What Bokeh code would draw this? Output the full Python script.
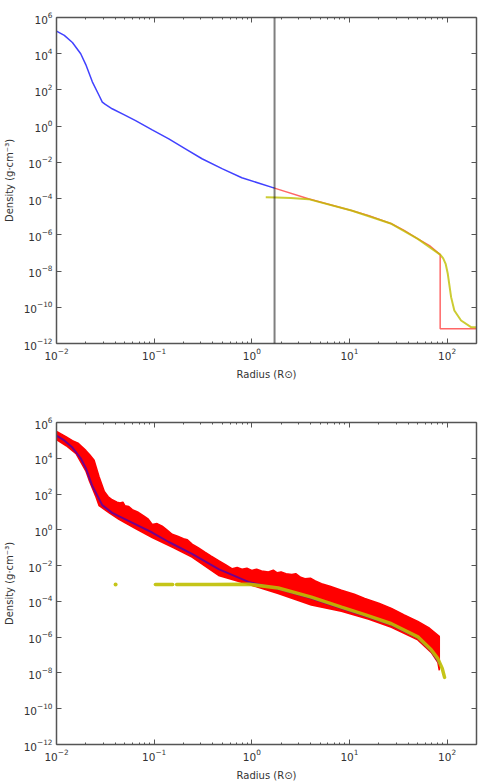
import numpy as np
from bokeh.plotting import figure
from bokeh.layouts import column
from bokeh.models import Range1d, FixedTicker, LogAxis, Span, CustomJSTickFormatter
from bokeh.embed import file_html
from bokeh.resources import INLINE

# ---- profile data (log10 of radius in R_sun, log10 of density in g/cm^3) ----

# analytic inner profile
inner_logr = [-2.0, -1.92, -1.837, -1.752, -1.70, -1.633, -1.56, -1.531, -1.50, -1.43,
              -1.31, -1.19, -1.02, -0.85, -0.68, -0.51, -0.30, -0.102, 0.232]
inner_logrho = [5.25, 5.01, 4.62, 4.00, 3.40, 2.45, 1.65, 1.33, 1.20, 0.96,
                0.64, 0.31, -0.20, -0.70, -1.25, -1.80, -2.36, -2.85, -3.42]

# outer envelope model, truncated at the surface
outer_logr = [0.232, 0.579, 1.02, 1.2, 1.43, 1.56, 1.70, 1.82, 1.929, 1.929, 2.31]
outer_logrho = [-3.42, -4.01, -4.66, -4.95, -5.39, -5.75, -6.22, -6.6, -7.09, -11.19, -11.19]

# relaxed (SPH-averaged) profile
relaxed_logr = [0.143, 0.25, 0.4, 0.58, 1.02, 1.43, 1.70, 1.929, 1.96, 1.985,
                2.007, 2.041, 2.074, 2.143, 2.245, 2.31]
relaxed_logrho = [-3.92, -3.94, -3.97, -4.03, -4.66, -5.39, -6.22, -7.09, -7.3, -7.6,
                  -8.15, -9.44, -10.18, -10.73, -11.1, -11.1]

# core/envelope boundary radius
r_boundary = 1.71

# particle cloud envelope (upper and lower edge)
cloud_upper_logr = [-2.0, -1.95, -1.9, -1.837, -1.78, -1.75, -1.70, -1.66, -1.615, -1.564,
                    -1.51, -1.47, -1.43, -1.38, -1.35, -1.32, -1.3, -1.26, -1.224, -1.17,
                    -1.1, -1.06, -1.02, -0.97, -0.918, -0.87, -0.816, -0.76, -0.7, -0.66,
                    -0.612, -0.55, -0.476, -0.42, -0.34, -0.27, -0.20, -0.15, -0.1, -0.05,
                    0.0, 0.05, 0.1, 0.17, 0.22, 0.26, 0.30, 0.35, 0.41, 0.45, 0.5, 0.544,
                    0.6, 0.65, 0.714, 0.8, 0.918, 1.05, 1.156, 1.3, 1.43, 1.56, 1.70, 1.82, 1.92]
cloud_upper_logrho = [5.50, 5.35, 5.2, 4.99, 4.85, 4.7, 4.44, 4.2, 3.89, 2.97,
                      2.14, 1.85, 1.68, 1.55, 1.5, 1.55, 1.35, 1.3, 1.13, 1.0,
                      0.75, 0.6, 0.30, 0.35, 0.21, 0.0, -0.25, -0.35, -0.5, -0.55,
                      -0.80, -1.0, -1.26, -1.45, -1.72, -1.95, -2.18, -2.1, -2.2, -2.15,
                      -2.27, -2.2, -2.3, -2.36, -2.25, -2.4, -2.35, -2.45, -2.50, -2.45, -2.65, -2.73,
                      -2.7, -2.85, -3.01, -3.15, -3.38, -3.6, -3.83, -4.1, -4.39, -4.75, -5.12, -5.5, -5.95]
cloud_lower_logr = [-2.0, -1.90, -1.80, -1.70, -1.666, -1.60, -1.564, -1.46, -1.36, -1.2,
                    -1.02, -0.8, -0.612, -0.34, 0.0, 0.27, 0.61, 0.918, 1.2, 1.43,
                    1.70, 1.837, 1.905, 1.92]
cloud_lower_logrho = [5.05, 4.7, 4.26, 3.3, 2.78, 1.9, 1.35, 0.95, 0.58, 0.1,
                      -0.43, -1.0, -1.53, -2.55, -3.1, -3.56, -4.2, -4.55, -5.0, -5.45,
                      -6.15, -6.85, -7.4, -7.85]

# fitted profile through the particles
fit_logr = [-2.0, -1.92, -1.837, -1.752, -1.70, -1.633, -1.531, -1.43, -1.19, -1.02,
            -0.85, -0.612, -0.34, -0.034, 0.27, 0.61, 0.918, 1.156, 1.43, 1.70,
            1.837, 1.905, 1.93]
fit_logrho = [5.27, 5.0, 4.6, 4.0, 3.45, 2.45, 1.38, 0.95, 0.31, -0.15,
              -0.68, -1.35, -2.2, -2.91, -3.3, -3.83, -4.39, -4.8, -5.31, -6.04,
              -6.77, -7.33, -7.55]

# relaxed particles (two runs of points along the profile plus one stray particle)
stray_logr = [-1.395]
stray_logrho = [-3.05]
relaxed_a_logr = [-0.987, -0.81]
relaxed_a_logrho = [-3.06, -3.06]
relaxed_b_logr = [-0.77, -0.4, -0.03, 0.27, 0.61, 0.918, 1.156, 1.43, 1.70, 1.837,
                  1.905, 1.95, 1.974]
relaxed_b_logrho = [-3.06, -3.06, -3.04, -3.25, -3.76, -4.32, -4.74, -5.25, -5.98, -6.7,
                    -7.2, -7.75, -8.25]

# axis ticks
x_major = [1e-2, 1e-1, 1e0, 1e1, 1e2]
x_minor = [m * d for d in [1e-2, 1e-1, 1e0, 1e1, 1e2] for m in range(2, 10)]
y_major = [1e-12, 1e-10, 1e-8, 1e-6, 1e-4, 1e-2, 1e0, 1e2, 1e4, 1e6]


def pw(vals):
    return [10.0 ** v for v in vals]


FONT = "DejaVu Sans"
AXIS_COLOR = "#555555"


def style_axis(ax, ticks, minor, labels):
    ax.ticker = FixedTicker(ticks=ticks, minor_ticks=minor)
    ax.major_tick_in = 5
    ax.major_tick_out = 0
    ax.minor_tick_in = 2
    ax.minor_tick_out = 0
    ax.axis_line_color = AXIS_COLOR
    ax.axis_line_width = 1.5
    ax.major_tick_line_color = AXIS_COLOR
    ax.minor_tick_line_color = AXIS_COLOR
    if labels:
        ax.major_label_text_font = FONT
        ax.major_label_text_font_size = "10.5px"
        ax.major_label_text_color = "#333333"
        ax.major_label_standoff = 4
        ax.axis_label_text_font = FONT
        ax.axis_label_text_font_size = "10px"
        ax.axis_label_text_font_style = "normal"
        ax.axis_label_text_color = "#333333"
        ax.axis_label_standoff = 6
    else:
        ax.formatter = CustomJSTickFormatter(code="return ''")
        ax.major_label_standoff = 0


def make_panel(height, top, bottom):
    p = figure(width=483, height=height, x_axis_type="log", y_axis_type="log",
               x_range=Range1d(1e-2, 200), y_range=Range1d(1e-12, 1e6),
               output_backend="svg", toolbar_location=None,
               min_border_left=54, min_border_right=7,
               min_border_top=top, min_border_bottom=bottom)
    p.grid.visible = False
    p.outline_line_color = None
    p.background_fill_color = "white"
    p.border_fill_color = "white"
    p.xaxis.axis_label = "Radius (R\u2299)"
    p.yaxis.axis_label = "Density (g\u00b7cm\u207b\u00b3)"
    style_axis(p.xaxis[0], x_major, x_minor, True)
    style_axis(p.yaxis[0], y_major, [], True)
    top_ax = LogAxis()
    right_ax = LogAxis()
    style_axis(top_ax, x_major, x_minor, False)
    style_axis(right_ax, y_major, [], False)
    p.add_layout(top_ax, "above")
    p.add_layout(right_ax, "right")
    return p


# ---- upper panel: initial profiles ----
p1 = make_panel(392, 17, 49)
p1.line(pw(inner_logr), pw(inner_logrho), line_color="#2020ff", line_width=1.5, line_alpha=0.85)
p1.line(pw(outer_logr), pw(outer_logrho), line_color="#ff0000", line_width=1.5, line_alpha=0.6)
p1.line(pw(relaxed_logr), pw(relaxed_logrho), line_color="#bfbf00", line_width=2, line_alpha=0.8)
p1.add_layout(Span(location=r_boundary, dimension="height", line_color="#000000",
                   line_alpha=0.5, line_width=2))

# ---- lower panel: particle distribution ----
p2 = make_panel(391, 30, 35)
cloud_x = pw(cloud_upper_logr) + pw(cloud_lower_logr[::-1])
cloud_y = pw(cloud_upper_logrho) + pw(cloud_lower_logrho[::-1])
p2.patch(cloud_x, cloud_y, fill_color="#ff0000", line_color="#ff0000", line_width=1.5)
p2.line(pw(fit_logr), pw(fit_logrho), line_color="#0000ff", line_width=2, line_alpha=0.55)
p2.line(pw(relaxed_a_logr), pw(relaxed_a_logrho), line_color="#bfbf00", line_width=3.5,
        line_cap="round", line_alpha=0.9)
p2.line(pw(relaxed_b_logr), pw(relaxed_b_logrho), line_color="#bfbf00", line_width=3.5,
        line_cap="round", line_alpha=0.9)
p2.scatter(pw(stray_logr), pw(stray_logrho), size=4, fill_color="#bfbf00",
           line_color=None, alpha=0.9)

layout = column(p1, p2, spacing=0)
open("out.html", "w").write(file_html(layout, INLINE))
